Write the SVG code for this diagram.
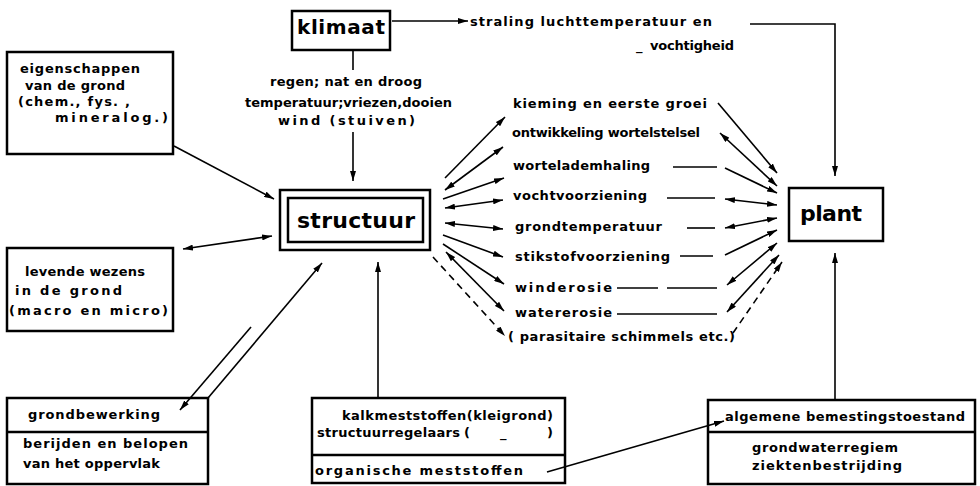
<svg xmlns="http://www.w3.org/2000/svg" width="980" height="486" viewBox="0 0 980 486">
<defs>
<style>
.box{fill:none;stroke:#000;stroke-width:2.5}
.ln{fill:none;stroke:#000;stroke-width:1.6}
.dash{stroke-dasharray:7 5}
.t{font-family:"DejaVu Sans","Liberation Sans",sans-serif;font-weight:bold;font-size:13px;fill:#000}
.big{font-size:22px}
.mid{font-size:20px}
</style>
<marker id="ah" viewBox="0 0 10 6" refX="10" refY="3" markerWidth="10" markerHeight="6" markerUnits="userSpaceOnUse" orient="auto-start-reverse"><path d="M0,0 L10,3 L0,6 z" fill="#000"/></marker>
</defs>
<rect width="980" height="486" fill="#fff"/>

<g id="connectors">
<line class="ln" x1="392" y1="21" x2="468" y2="21" marker-end="url(#ah)"/>
<polyline class="ln" points="750,24 835,24 835,176" marker-end="url(#ah)"/>
<line class="ln" x1="353" y1="50" x2="353" y2="70"/>
<line class="ln" x1="353" y1="132" x2="353" y2="181" marker-end="url(#ah)"/>
<line class="ln" x1="174" y1="146" x2="274" y2="199" marker-end="url(#ah)"/>
<line class="ln" x1="183" y1="249" x2="272" y2="236" marker-start="url(#ah)" marker-end="url(#ah)"/>
<line class="ln" x1="208" y1="398" x2="322" y2="263" marker-end="url(#ah)"/>
<line class="ln" x1="251" y1="327" x2="180" y2="410" marker-end="url(#ah)"/>
<line class="ln" x1="378" y1="398" x2="378" y2="262" marker-end="url(#ah)"/>
<line class="ln" x1="547" y1="472" x2="724" y2="421" marker-end="url(#ah)"/>
<line class="ln" x1="835" y1="400" x2="835" y2="253" marker-end="url(#ah)"/>
<line class="ln" x1="445" y1="178" x2="505" y2="117" marker-end="url(#ah)"/>
<line class="ln" x1="445" y1="190" x2="503" y2="147" marker-start="url(#ah)" marker-end="url(#ah)"/>
<line class="ln" x1="443" y1="199" x2="504" y2="178" marker-end="url(#ah)"/>
<line class="ln" x1="445" y1="208" x2="503" y2="200" marker-start="url(#ah)" marker-end="url(#ah)"/>
<line class="ln" x1="445" y1="223" x2="503" y2="229" marker-start="url(#ah)" marker-end="url(#ah)"/>
<line class="ln" x1="443" y1="235" x2="503" y2="257" marker-end="url(#ah)"/>
<line class="ln" x1="443" y1="244" x2="504" y2="284" marker-end="url(#ah)"/>
<line class="ln" x1="446" y1="252" x2="504" y2="311" marker-start="url(#ah)" marker-end="url(#ah)"/>
<line class="ln dash" x1="433" y1="257" x2="505" y2="336" marker-end="url(#ah)"/>
<line class="ln" x1="673" y1="167" x2="717" y2="167" stroke-width="2"/>
<line class="ln" x1="667" y1="198" x2="715" y2="198"/>
<line class="ln" x1="687" y1="228" x2="715" y2="228"/>
<line class="ln" x1="680" y1="256" x2="713" y2="256"/>
<line class="ln" x1="617" y1="288" x2="658" y2="288"/>
<line class="ln" x1="667" y1="288" x2="717" y2="288" stroke-width="2.2"/>
<line class="ln" x1="617" y1="314" x2="717" y2="314"/>
<line class="ln" x1="718" y1="103" x2="777" y2="173" marker-end="url(#ah)"/>
<line class="ln" x1="720" y1="133" x2="777" y2="186" marker-start="url(#ah)" marker-end="url(#ah)"/>
<line class="ln" x1="725" y1="168" x2="777" y2="193" marker-end="url(#ah)"/>
<line class="ln" x1="725" y1="199" x2="777" y2="205" marker-start="url(#ah)" marker-end="url(#ah)"/>
<line class="ln" x1="725" y1="228" x2="777" y2="218" marker-start="url(#ah)" marker-end="url(#ah)"/>
<line class="ln" x1="725" y1="255" x2="777" y2="230" marker-end="url(#ah)"/>
<line class="ln" x1="727" y1="285" x2="777" y2="243" marker-start="url(#ah)" marker-end="url(#ah)"/>
<line class="ln" x1="727" y1="312" x2="779" y2="255" marker-start="url(#ah)" marker-end="url(#ah)"/>
<line class="ln dash" x1="733" y1="333" x2="782" y2="262" marker-end="url(#ah)"/>
</g>

<g id="klimaat">
<rect class="box" x="292" y="11" width="98" height="39"/>
<text class="t mid" x="297" y="34" textLength="88">klimaat</text>
</g>

<g id="klimaat-labels">
<text class="t" x="470" y="26" textLength="242">straling luchttemperatuur en</text>
<text class="t" x="636" y="50"><tspan>_</tspan><tspan x="650" textLength="84">vochtigheid</tspan></text>
<text class="t" x="270" y="86" textLength="152">regen; nat en droog</text>
<text class="t" x="245" y="107" textLength="207">temperatuur;vriezen,dooien</text>
<text class="t" x="278" y="125" textLength="137">wind (stuiven)</text>
</g>

<g id="structuur">
<rect class="box" x="280" y="190" width="150" height="60"/>
<rect class="box" x="288" y="198" width="135" height="44" stroke-width="3"/>
<text class="t big" x="297" y="228" textLength="118">structuur</text>
</g>

<g id="plant">
<rect class="box" x="789" y="188" width="94" height="53"/>
<text class="t big" x="800" y="221" textLength="62">plant</text>
</g>

<g id="eigenschappen">
<rect class="box" x="7" y="52" width="166" height="102"/>
<text class="t" x="20" y="73" textLength="120">eigenschappen</text>
<text class="t" x="25" y="90" textLength="100">van de grond</text>
<text class="t" x="18" y="106" textLength="112">(chem., fys. ,</text>
<text class="t" x="55" y="122" textLength="113">mineralog.)</text>
</g>

<g id="levende">
<rect class="box" x="7" y="248" width="166" height="83"/>
<text class="t" x="25" y="276" textLength="120">levende wezens</text>
<text class="t" x="15" y="295" textLength="107">in de grond</text>
<text class="t" x="9" y="315" textLength="159">(macro en micro)</text>
</g>

<g id="grondbewerking">
<rect class="box" x="7" y="398" width="201" height="86"/>
<line class="box" x1="7" y1="432" x2="208" y2="432"/>
<text class="t" x="28" y="419" textLength="132">grondbewerking</text>
<text class="t" x="23" y="448" textLength="165">berijden en belopen</text>
<text class="t" x="23" y="468" textLength="137">van het oppervlak</text>
</g>

<g id="meststoffen">
<rect class="box" x="312" y="398" width="253" height="85"/>
<line class="box" x1="312" y1="455" x2="565" y2="455"/>
<text class="t" x="342" y="420" textLength="211">kalkmeststoffen(kleigrond)</text>
<text class="t" x="317" y="437"><tspan textLength="143">structuurregelaars</tspan><tspan x="464">(</tspan><tspan x="500">_</tspan><tspan x="547">)</tspan></text>
<text class="t" x="315" y="475" textLength="208">organische  meststoffen</text>
</g>

<g id="bemesting">
<rect class="box" x="708" y="400" width="267" height="84"/>
<line class="box" x1="708" y1="432" x2="975" y2="432"/>
<text class="t" x="725" y="421" textLength="240">algemene bemestingstoestand</text>
<text class="t" x="752" y="452" textLength="146">grondwaterregiem</text>
<text class="t" x="752" y="470" textLength="150">ziektenbestrijding</text>
</g>

<g id="factoren">
<text class="t" x="513" y="108" textLength="194">kieming en eerste groei</text>
<text class="t" x="512" y="137" textLength="188">ontwikkeling wortelstelsel</text>
<text class="t" x="513" y="170" textLength="137">wortelademhaling</text>
<text class="t" x="513" y="200" textLength="134">vochtvoorziening</text>
<text class="t" x="515" y="231" textLength="147">grondtemperatuur</text>
<text class="t" x="515" y="261" textLength="155">stikstofvoorziening</text>
<text class="t" x="515" y="292" textLength="97">winderosie</text>
<text class="t" x="515" y="317" textLength="97">watererosie</text>
<text class="t" x="508" y="341" textLength="227">( parasitaire schimmels etc.)</text>
</g>
</svg>
